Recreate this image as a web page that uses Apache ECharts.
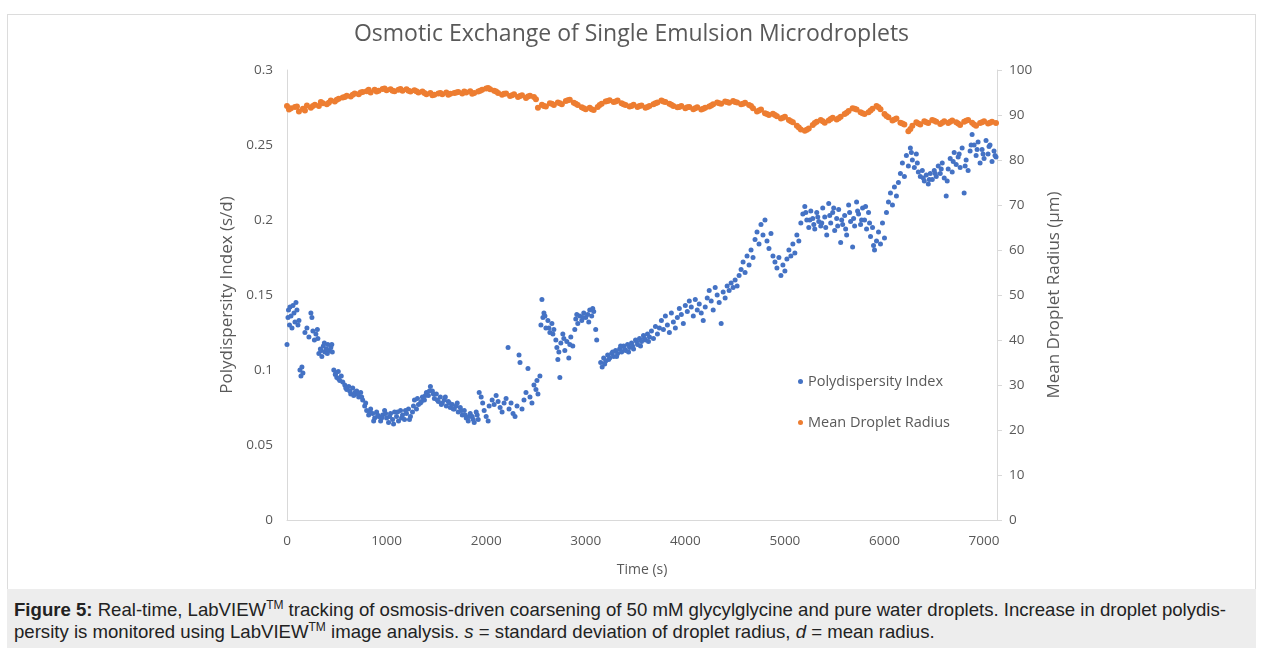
<!DOCTYPE html>
<html><head><meta charset="utf-8">
<script src="https://cdn.jsdelivr.net/npm/echarts/dist/echarts.min.js"></script>
<style>
html,body{margin:0;padding:0;background:#fff;width:1263px;height:648px;overflow:hidden;}
#frame{position:absolute;left:7px;top:14px;width:1249px;height:600px;border:1px solid #dcdcdc;box-sizing:border-box;}
#chart{position:absolute;left:0;top:0;width:1263px;height:590px;}
#caption{position:absolute;left:7px;top:589px;width:1249px;height:59px;background:#ededed;font-family:"Liberation Sans",Arial,sans-serif;font-size:18.6px;line-height:22px;color:#222;padding:10px 0 0 7px;box-sizing:border-box;white-space:nowrap;}
#caption sup{font-size:12px;line-height:0;vertical-align:7px;}
</style></head>
<body>
<div id="frame"></div>
<div id="chart"></div>
<div id="caption"><b>Figure 5:</b> Real-time, LabVIEW<sup>TM</sup> tracking of osmosis-driven coarsening of 50 mM glycylglycine and pure water droplets. Increase in droplet polydis-<br>persity is monitored using LabVIEW<sup>TM</sup> image analysis. <i>s</i> = standard deviation of droplet radius, <i>d</i> = mean radius.</div>
<script>
var titleText = 'Osmotic Exchange of Single Emulsion Microdroplets';
var xAxisName = 'Time (s)';
var leftAxisName = 'Polydispersity Index (s/d)';
var rightAxisName = 'Mean Droplet Radius (\u00b5m)';
var seriesNames = ['Polydispersity Index', 'Mean Droplet Radius'];

var pdiTime = [0,10,15,25,30,40,50,60,70,80,90,100,110,120,130,140,150,160,180,200,220,240,250,260,275,290,305,
320,335,350,365,380,395,410,425,440,455,470,485,500,515,530,545,560,580,600,620,640,660,680,700,720,740,760,
780,800,820,840,860,880,900,920,940,960,980,1000,1020,1040,1060,1080,1100,1120,1140,1160,1180,1200,1220,1240,
1260,1280,1300,1320,1340,1360,1380,1400,1420,1440,1460,1480,1500,1520,1540,1560,1580,1600,1620,1640,1660,1680,
1700,1720,1740,1760,1780,1800,1820,1840,1860,1880,1900,1920,1930,1950,1965,1980,2000,2020,2030,2060,2080,2100,
2120,2140,2160,2180,2200,2220,2230,2250,2270,2290,2310,2330,2340,2360,2380,2400,2420,2440,2460,2480,2500,2510,
2520,2540,2550,2560,2570,2580,2600,2620,2640,2660,2680,2700,2710,2720,2740,2750,2770,2790,2810,2830,2850,2870,
2890,2900,2920,2940,2960,2980,3000,3020,3040,3060,3080,3100,3110,3150,3165,3180,3200,3220,3240,3260,3280,3300,
3320,3340,3360,3380,3400,3420,3440,3460,3480,3500,3520,3540,3560,3580,3600,3620,3640,3660,3680,3700,3720,3740,
3760,3780,3800,3820,3840,3860,3880,3900,3920,3940,3960,3980,4000,4020,4040,4060,4080,4100,4120,4140,4160,4180,
4200,4220,4240,4260,4280,4300,4320,4340,4360,4380,4400,4420,4440,4460,4480,4500,4520,4540,4560,4580,4600,4620,
4640,4660,4680,4700,4720,4740,4760,4780,4800,4820,4840,4860,4880,4900,4920,4940,4960,4980,5000,5020,5040,5060,
5080,5100,5120,5140,5160,5180,5200,5220,5240,5260,5280,5300,5320,5340,5360,5380,5400,5420,5440,5460,5480,5500,
5520,5540,5560,5580,5600,5620,5640,5660,5680,5700,5720,5740,5760,5780,5800,5820,5840,5860,5880,5900,5920,5940,
5960,5980,6000,6020,6040,6060,6080,6100,6120,6140,6160,6180,6200,6220,6240,6260,6280,6300,6320,6340,6360,6380,
6400,6420,6440,6460,6480,6500,6520,6540,6560,6580,6600,6620,6640,6660,6680,6700,6720,6740,6760,6780,6800,6820,
6840,6860,6880,6900,6920,6940,6960,6980,7000,7020,7040,7060,7080,7100,7120,
790,830,870,910,950,990,1030,1070,1110,1150,1190,1230,1270,
1310,1350,1390,1430,1470,1510,1550,1590,1630,1670,1710,1750,1790,1830,1870,1910,
3190,3230,3270,3310,3350,3390,3430,3470,3510,3550,3590,3630,
5210,5250,5290,5330,5370,5410,5450,5490,5530,5570,5610,5650,5690,5730,5770,5810,5850,5890,
6270,6330,6390,6450,6510,6570,6630,6690,6750,6810,6870,6930,6990,7050,7110,
2590,2630,2670,2730,2780,2840,2910,2970,3030,3070,
310,345,375,405,450,490,520,590,630,670,710,750];

var pdiValue = [0.117,0.135,0.140,0.130,0.142,0.136,0.128,0.143,0.138,0.132,0.145,0.140,0.130,0.133,0.100,0.096,0.102,0.098,0.125,0.128,0.122,0.138,0.135,0.126,0.120,0.124,0.127,
0.111,0.114,0.109,0.116,0.112,0.114,0.117,0.113,0.115,0.112,0.100,0.097,0.095,0.099,0.093,0.096,0.092,0.090,0.087,0.089,0.084,0.088,0.085,0.086,0.082,0.085,0.080,
0.076,0.073,0.070,0.074,0.071,0.068,0.072,0.069,0.066,0.070,0.073,0.068,0.065,0.071,0.067,0.072,0.069,0.066,0.073,0.070,0.067,0.071,0.074,0.069,
0.072,0.080,0.074,0.077,0.078,0.082,0.080,0.085,0.083,0.089,0.086,0.081,0.084,0.079,0.082,0.078,0.080,0.076,0.079,0.075,0.077,0.074,
0.076,0.072,0.075,0.070,0.073,0.068,0.066,0.071,0.069,0.065,0.072,0.067,0.085,0.082,0.078,0.073,0.069,0.066,0.076,0.080,0.077,0.083,
0.079,0.075,0.072,0.078,0.081,0.115,0.074,0.078,0.071,0.069,0.076,0.110,0.105,0.074,0.080,0.085,0.101,0.082,0.078,0.090,0.087,0.093,
0.084,0.096,0.130,0.147,0.135,0.138,0.128,0.133,0.125,0.131,0.127,0.120,0.115,0.107,0.095,0.118,0.124,0.113,0.119,0.108,0.122,0.116,
0.127,0.134,0.131,0.136,0.133,0.138,0.135,0.137,0.140,0.136,0.139,0.127,0.120,0.105,0.102,0.108,0.106,0.110,0.108,0.111,0.109,0.113,
0.111,0.114,0.112,0.116,0.113,0.117,0.115,0.118,0.114,0.120,0.117,0.121,0.119,0.123,0.120,0.124,0.122,0.126,0.121,0.129,0.124,0.128,
0.133,0.127,0.136,0.130,0.125,0.138,0.132,0.128,0.135,0.141,0.137,0.131,0.143,0.139,0.146,0.142,0.136,0.147,0.140,0.144,0.138,0.133,
0.142,0.148,0.153,0.146,0.140,0.155,0.150,0.145,0.131,0.152,0.148,0.156,0.153,0.158,0.155,0.160,0.156,0.163,0.167,0.172,0.165,0.176,
0.170,0.180,0.175,0.187,0.192,0.184,0.197,0.190,0.200,0.186,0.181,0.191,0.176,0.172,0.168,0.175,0.163,0.170,0.166,0.174,0.180,0.176,
0.184,0.178,0.190,0.186,0.198,0.204,0.209,0.200,0.195,0.206,0.201,0.194,0.205,0.199,0.196,0.208,0.202,0.190,0.211,0.198,0.205,0.193,
0.201,0.207,0.185,0.197,0.203,0.190,0.210,0.199,0.182,0.196,0.212,0.204,0.197,0.208,0.200,0.194,0.205,0.189,0.195,0.180,0.186,0.192,
0.184,0.198,0.188,0.205,0.212,0.218,0.210,0.222,0.216,0.225,0.231,0.238,0.229,0.243,0.236,0.248,0.240,0.235,0.244,0.232,0.229,0.233,
0.226,0.230,0.224,0.231,0.227,0.233,0.229,0.236,0.231,0.238,0.228,0.216,0.234,0.241,0.232,0.245,0.237,0.242,0.235,0.248,0.218,0.240,
0.233,0.246,0.257,0.250,0.243,0.252,0.238,0.247,0.241,0.253,0.244,0.250,0.239,0.246,0.242,
0.078,0.072,0.066,0.070,0.068,0.071,0.069,0.064,0.072,0.068,0.073,0.067,0.076,
0.081,0.079,0.083,0.086,0.084,0.080,0.077,0.082,0.078,0.074,0.078,0.073,0.070,0.069,0.067,0.070,
0.104,0.107,0.112,0.109,0.116,0.114,0.112,0.116,0.119,0.116,0.121,0.119,
0.205,0.200,0.197,0.202,0.198,0.195,0.203,0.208,0.196,0.200,0.194,0.205,0.201,0.206,0.200,0.209,0.198,0.183,
0.245,0.238,0.228,0.227,0.231,0.234,0.226,0.239,0.244,0.236,0.250,0.247,0.244,0.249,0.243,
0.136,0.128,0.124,0.112,0.121,0.117,0.137,0.135,0.132,0.141,
0.121,0.113,0.118,0.111,0.117,0.098,0.094,0.088,0.086,0.083,0.084,0.082];

var radiusTime = [0,40,80,120,160,200,240,280,320,360,400,440,480,520,560,600,640,680,720,760,800,840,880,920,960,1000,
1040,1080,1120,1160,1200,1240,1280,1320,1360,1400,1440,1480,1520,1560,1600,1640,1680,1720,1760,1800,1840,1880,1920,1960,
2000,2040,2080,2120,2160,2200,2240,2280,2320,2360,2400,2440,2480,2520,2560,2600,2640,2680,2720,2760,2800,2840,2880,2920,
2960,3000,3040,3080,3120,3160,3200,3240,3280,3320,3360,3400,3440,3480,3520,3560,3600,3640,3680,3720,3760,3800,3840,3880,
3920,3960,4000,4040,4080,4120,4160,4200,4240,4280,4320,4360,4400,4440,4480,4520,4560,4600,4640,4680,4720,4760,4800,4840,
4880,4920,4960,5000,5040,5080,5120,5160,5200,5240,5280,5320,5360,5400,5440,5480,5520,5560,5600,5640,5680,5720,5760,5800,
5840,5880,5920,5960,6000,6040,6080,6120,6160,6200,6240,6280,6320,6360,6400,6440,6480,6520,6560,6600,6640,6680,6720,6760,
6800,6840,6880,6920,6960,7000,7040,7080,7120,
20,100,180,260,340,420,500,580,660,740,820,900,980,1060,1140,1220,1300,1380,1460,1540,1620,1700,1780,1860,1940,
2020,2100,2180,2260,2340,2420,2500,2580,2660,2740,2820,2900,2980,3060,3140,3220,3300,3380,3460,3540,3620,3700,
3780,3860,3940,4020,4100,4180,4260,4340,4420,4500,4580,4660,4740,4820,4900,4980,5060,5140,5220,5300,5380,5460,
5540,5620,5700,5780,5860,5940,6020,6100,6180,6260,6340,6420,6500,6580,6660,6740,6820,6900,6980,7060];

var radiusValue = [92.0,91.5,91.8,90.8,91.4,92.1,91.6,92.3,92.0,92.6,92.4,93.2,93.0,93.6,93.9,94.3,94.1,94.8,94.6,95.1,95.3,95.0,95.6,95.4,95.8,95.5,
95.7,95.3,95.6,95.4,95.7,95.2,95.5,95.0,95.2,94.6,94.9,94.5,94.8,94.6,95.0,94.7,94.9,95.1,94.8,95.0,95.3,94.9,95.2,95.6,
95.9,95.7,95.4,94.9,94.5,94.8,94.2,94.6,94.0,94.4,93.8,94.3,94.0,91.6,92.3,91.9,92.6,92.2,92.8,92.4,93.1,93.4,92.7,92.2,
91.7,91.3,91.6,91.1,91.8,92.5,93.0,93.3,92.9,93.2,92.6,92.2,91.9,92.3,91.8,92.1,91.6,92.0,92.4,92.8,93.2,92.9,92.5,92.0,
91.7,92.0,91.5,91.8,91.3,91.7,91.2,91.6,91.9,92.4,92.8,92.5,93.0,92.7,93.1,92.8,92.4,92.7,92.2,91.5,90.8,91.2,90.4,90.0,
90.3,89.7,89.2,89.6,88.9,88.4,87.6,86.8,86.5,87.0,87.8,88.5,88.9,88.3,88.8,89.4,89.0,89.6,90.2,90.9,91.5,91.2,90.6,90.2,
90.6,91.4,92.0,91.3,90.2,89.5,88.8,89.2,88.3,87.9,86.4,87.6,88.4,87.9,88.6,88.2,88.9,88.5,88.0,88.6,88.2,88.8,88.4,87.8,
88.5,88.9,88.3,87.6,88.2,88.6,88.1,88.5,88.2,
91.2,91.9,91.0,92.0,92.9,92.7,93.4,94.0,94.5,95.0,95.6,95.2,95.9,95.4,95.8,95.4,95.3,94.9,94.4,94.9,94.5,95.0,95.2,94.7,95.4,
96.0,95.2,94.7,94.4,94.2,94.1,93.5,92.0,92.5,92.6,93.3,92.5,91.5,91.3,92.2,93.1,93.0,92.4,92.0,92.0,91.8,92.6,
93.0,92.3,91.8,91.7,91.5,91.4,92.1,92.6,92.9,92.9,92.5,92.0,91.0,90.2,90.0,89.4,88.6,87.2,86.7,88.2,88.6,89.1,
89.3,90.5,91.4,90.4,91.0,91.7,89.8,89.0,88.1,86.9,88.1,88.4,88.7,88.3,88.5,88.1,88.7,87.9,88.4,88.3];

function pairs(t, v) { return t.map(function (x, i) { return [x, v[i]]; }); }

var grey = '#595959';
var font = '"Open Sans", sans-serif';
var chart = echarts.init(document.getElementById('chart'), null, { renderer: 'canvas' });
chart.setOption({
  animation: false,
  backgroundColor: 'transparent',
  textStyle: { fontFamily: font },
  title: {
    text: titleText, left: 'center', top: 18,
    textStyle: { fontFamily: font, fontSize: 23, fontWeight: 'normal', color: grey }
  },
  grid: { left: 287, right: 266, top: 70, bottom: 70, containLabel: false },
  legend: {
    orient: 'vertical', left: 793, top: 369, itemGap: 26,
    icon: 'circle', itemWidth: 5, itemHeight: 5,
    textStyle: { fontFamily: font, fontSize: 14.5, color: grey },
    data: seriesNames
  },
  xAxis: {
    type: 'value', min: 0, max: 7130, interval: 1000,
    name: xAxisName, nameLocation: 'middle', nameGap: 43,
    nameTextStyle: { fontFamily: font, fontSize: 14, color: grey },
    axisLine: { show: true, lineStyle: { color: '#d9d9d9', width: 1 } },
    axisTick: { show: false },
    splitLine: { show: false },
    axisLabel: { color: grey, fontSize: 13.5, fontFamily: font, margin: 14,
      formatter: function (v) { return v % 1000 === 0 ? String(v) : ''; } }
  },
  yAxis: [{
    type: 'value', min: 0, max: 0.3, interval: 0.05, position: 'left',
    name: leftAxisName, nameLocation: 'middle', nameGap: 50,
    nameTextStyle: { fontFamily: font, fontSize: 17, color: grey },
    axisLine: { show: true, lineStyle: { color: '#d9d9d9', width: 1 } },
    axisTick: { show: false },
    splitLine: { show: false },
    axisLabel: { color: grey, fontSize: 13.5, fontFamily: font, margin: 14 }
  }, {
    type: 'value', min: 0, max: 100, interval: 10, position: 'right',
    name: rightAxisName, nameLocation: 'middle', nameGap: 49,
    nameTextStyle: { fontFamily: font, fontSize: 17, color: grey },
    axisLine: { show: true, lineStyle: { color: '#d9d9d9', width: 1 } },
    axisTick: { show: true, length: 5, inside: false, lineStyle: { color: '#d9d9d9' } },
    splitLine: { show: false },
    axisLabel: { color: grey, fontSize: 13.5, fontFamily: font, margin: 12 }
  }],
  series: [{
    name: seriesNames[0], type: 'scatter', yAxisIndex: 0,
    symbol: 'circle', symbolSize: 5,
    itemStyle: { color: '#4472C4', opacity: 1 },
    data: pairs(pdiTime, pdiValue)
  }, {
    name: seriesNames[1], type: 'scatter', yAxisIndex: 1,
    symbol: 'circle', symbolSize: 6,
    itemStyle: { color: '#ED7D31', opacity: 1 },
    data: pairs(radiusTime, radiusValue)
  }]
});
</script>
</body></html>
